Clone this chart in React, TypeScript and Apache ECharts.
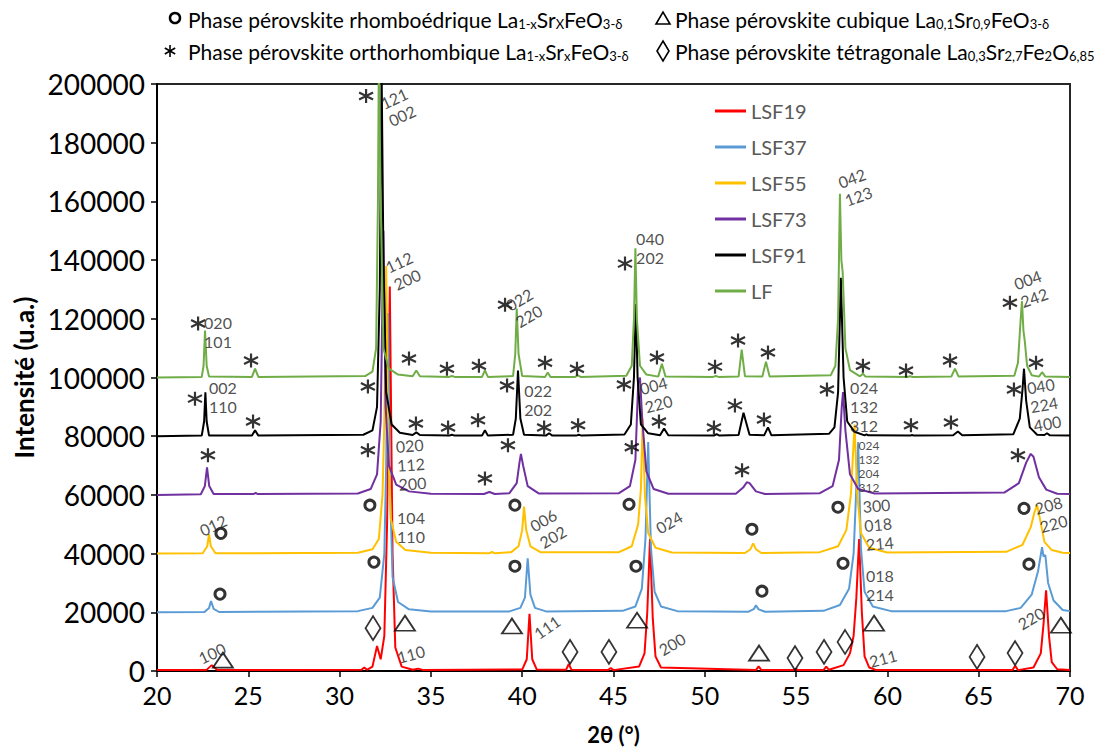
import React, { useEffect, useRef } from 'react';
import * as echarts from 'echarts';

const FONT = 'Lato, "Open Sans", sans-serif';

const seriesNames = ['LSF19', 'LSF37', 'LSF55', 'LSF73', 'LSF91', 'LF'];
const seriesColors = ['#FF0000', '#5B9BD5', '#FFC000', '#7030A0', '#000000', '#70AD47'];

const LSF19: [number, number][] = [
  [20, 300], [22.7, 300], [23.0, 2000], [23.3, 300], [31.2, 400], [31.35, 1200], [31.5, 400], [31.8, 1500],
  [32.05, 8500], [32.25, 4000], [32.45, 12000], [32.6, 50000], [32.75, 131000], [32.9, 40000], [33.05, 8000],
  [33.4, 1500], [34.0, 400], [34.3, 800], [34.6, 300], [40.0, 500], [40.25, 4000], [40.4, 19500], [40.55, 4000],
  [40.8, 500], [42.4, 400], [42.55, 2400], [42.7, 400], [44.7, 300], [44.85, 1000], [45.0, 300], [46.4, 1500],
  [46.7, 6000], [46.85, 20000], [47.0, 45000], [47.15, 18000], [47.3, 5000], [47.6, 1200], [52.8, 300],
  [52.95, 1600], [53.1, 300], [54.9, 300], [55.0, 700], [55.1, 300], [56.5, 300], [56.65, 1500], [56.8, 400],
  [57.6, 2000], [57.95, 6000], [58.15, 12000], [58.3, 25000], [58.45, 45000], [58.6, 20000], [58.75, 5000],
  [59.0, 1200], [59.4, 300], [66.85, 300], [67.0, 1800], [67.15, 300], [68.0, 1200], [68.4, 6000], [68.55, 16000],
  [68.69, 27500], [68.85, 12000], [69.0, 3000], [69.3, 600], [70, 300],
];

const LSF37: [number, number][] = [
  [20, 20000], [22.6, 20100], [22.85, 21500], [22.96, 23800], [23.1, 21200], [23.4, 20100], [31.0, 20400],
  [31.8, 21500], [32.2, 25000], [32.45, 40000], [32.55, 70000], [32.65, 122000], [32.75, 65000], [32.9, 32000],
  [33.2, 23500], [33.8, 21000], [35, 20300], [39.3, 20300], [39.9, 21500], [40.15, 25000], [40.3, 38400],
  [40.45, 26000], [40.7, 21500], [41.3, 20300], [45.5, 20500], [46.2, 22000], [46.55, 28000], [46.75, 45000],
  [46.9, 78000], [47.05, 42000], [47.25, 27000], [47.6, 22000], [48.5, 20400], [52.4, 20200], [52.7, 21200],
  [52.8, 22400], [52.95, 21000], [53.3, 20200], [56.5, 20500], [57.4, 22500], [57.9, 28000], [58.15, 40000],
  [58.4, 78000], [58.55, 42000], [58.75, 27000], [59.2, 22000], [60.2, 20400], [66.5, 20400], [67.3, 21500],
  [67.9, 26000], [68.25, 34000], [68.47, 42200], [68.55, 39000], [68.65, 39500], [68.8, 30000], [69.1, 24000],
  [69.6, 20800], [70, 20400],
];

const LSF55: [number, number][] = [
  [20, 40000], [22.5, 40100], [22.75, 42500], [22.85, 46600], [22.95, 42500], [23.2, 40100], [31.0, 40300],
  [31.8, 41500], [32.15, 45000], [32.35, 60000], [32.45, 85000], [32.55, 138000], [32.65, 80000], [32.8, 52000],
  [33.1, 44000], [33.6, 41200], [35, 40300], [38.2, 40100], [38.35, 40600], [38.5, 40100], [39.4, 40500],
  [39.8, 42500], [40.0, 48000], [40.1, 56000], [40.22, 48000], [40.45, 42500], [41.0, 40500], [45.3, 40500],
  [46.0, 42500], [46.35, 50000], [46.5, 62000], [46.6, 86000], [46.72, 60000], [46.9, 47000], [47.3, 42000],
  [48.2, 40400], [52.2, 40200], [52.5, 41500], [52.65, 43500], [52.8, 41500], [53.1, 40200], [56.3, 40500],
  [57.3, 42500], [57.75, 48000], [58.0, 60000], [58.2, 84000], [58.35, 60000], [58.55, 47000], [59.0, 42000],
  [60.0, 40400], [66.5, 40600], [67.4, 43000], [67.85, 49000], [68.05, 54000], [68.2, 56500], [68.35, 52000],
  [68.6, 44000], [69.0, 41200], [69.6, 40300], [70, 40200],
];

const LSF73: [number, number][] = [
  [20, 60000], [22.4, 60200], [22.62, 63000], [22.74, 69400], [22.86, 63000], [23.1, 60300], [25.3, 60300],
  [25.4, 60700], [25.5, 60300], [31.0, 60500], [31.7, 62000], [32.05, 67000], [32.25, 85000], [32.4, 150000],
  [32.52, 90000], [32.7, 70000], [33.1, 63500], [33.8, 61200], [35, 60400], [37.9, 60300], [38.2, 61000],
  [38.5, 60300], [39.3, 60600], [39.7, 64000], [39.85, 71000], [39.93, 74000], [40.05, 70000], [40.3, 63000],
  [40.9, 60500], [45.3, 60600], [45.9, 63000], [46.2, 72000], [46.35, 98000], [46.45, 100000], [46.58, 85000],
  [46.8, 68000], [47.2, 62000], [48.0, 60400], [51.7, 60400], [52.1, 62500], [52.3, 64300], [52.45, 64000],
  [52.8, 61200], [53.3, 60300], [56.3, 60600], [57.0, 63000], [57.35, 72000], [57.5, 90000], [57.57, 95000],
  [57.7, 82000], [57.95, 67000], [58.4, 62000], [59.3, 60500], [66.4, 60800], [67.2, 64000], [67.6, 71000],
  [67.85, 74000], [68.0, 73000], [68.3, 66000], [68.7, 61800], [69.3, 60400], [70, 60300],
];

const LSF91: [number, number][] = [
  [20, 80000], [22.45, 80200], [22.58, 85000], [22.65, 95000], [22.72, 85000], [22.85, 80200], [25.2, 80200],
  [25.37, 82000], [25.55, 80200], [31.3, 80500], [31.8, 82000], [32.05, 90000], [32.2, 130000], [32.3, 205000],
  [32.4, 140000], [32.55, 95000], [32.85, 84000], [33.3, 81200], [34.0, 80400], [34.2, 81300], [34.4, 80400],
  [36.0, 80200], [36.15, 80500], [36.3, 80200], [37.8, 80200], [37.96, 82000], [38.12, 80200], [39.5, 80500],
  [39.65, 86000], [39.77, 102400], [39.9, 86000], [40.1, 80500], [41.3, 80200], [41.47, 81000], [41.65, 80200],
  [42.95, 80200], [43.1, 80500], [43.25, 80200], [45.6, 80600], [45.95, 84000], [46.12, 100000], [46.22, 125000],
  [46.32, 100000], [46.5, 84000], [46.9, 81000], [47.55, 80300], [47.77, 82600], [48.0, 80300], [50.5, 80200],
  [50.65, 80700], [50.8, 80200], [51.85, 80400], [52.05, 86000], [52.12, 88000], [52.25, 85000], [52.45, 80500],
  [53.25, 80300], [53.46, 83000], [53.65, 80300], [56.8, 80800], [57.1, 83000], [57.3, 95000], [57.45, 134000],
  [57.6, 100000], [57.8, 85000], [58.2, 81500], [58.75, 80300], [58.85, 80600], [58.95, 80300], [61.25, 80200],
  [61.35, 80400], [61.45, 80200], [63.6, 80300], [63.86, 81600], [64.1, 80300], [66.9, 80700], [67.25, 86000],
  [67.4, 96000], [67.48, 103000], [67.6, 92000], [67.8, 83000], [68.2, 80500], [68.6, 80400], [68.74, 81000],
  [68.9, 80300], [70, 80200],
];

const LF: [number, number][] = [
  [20, 100000], [22.45, 100200], [22.55, 104000], [22.63, 116000], [22.72, 104000], [22.85, 100300],
  [25.2, 100200], [25.37, 103000], [25.55, 100200], [31.4, 100500], [31.8, 102000], [32.0, 110000],
  [32.1, 160000], [32.15, 210000], [32.25, 160000], [32.4, 110000], [32.7, 103000], [33.2, 101000],
  [34.0, 100400], [34.2, 102400], [34.4, 100400], [36.0, 100200], [36.15, 100500], [36.3, 100200],
  [37.8, 100200], [37.96, 102400], [38.12, 100200], [39.5, 100500], [39.62, 108000], [39.7, 123500],
  [39.8, 108000], [40.0, 100500], [41.25, 100200], [41.4, 101700], [41.55, 100200], [42.9, 100200],
  [43.05, 100700], [43.2, 100200], [45.7, 100600], [46.0, 104000], [46.12, 120000], [46.2, 144000],
  [46.28, 120000], [46.45, 104000], [46.8, 101000], [47.45, 100300], [47.65, 104700], [47.85, 100300],
  [50.45, 100200], [50.6, 100500], [50.75, 100200], [51.85, 100300], [52.02, 109500], [52.2, 100400],
  [53.15, 100300], [53.35, 105400], [53.55, 100300], [56.9, 100800], [57.15, 104000], [57.3, 120000],
  [57.4, 162600], [57.48, 140000], [57.55, 136000], [57.7, 110000], [57.95, 102500], [58.5, 100400],
  [58.66, 101300], [58.8, 100300], [61.1, 100200], [61.24, 100400], [61.4, 100200], [63.5, 100300],
  [63.7, 103000], [63.9, 100300], [66.95, 100600], [67.15, 105000], [67.3, 120000], [67.37, 126000],
  [67.45, 116000], [67.52, 112600], [67.65, 104000], [67.9, 100800], [68.3, 100300], [68.47, 101800],
  [68.65, 100300], [70, 100200],
];

const seriesData = [LSF19, LSF37, LSF55, LSF73, LSF91, LF];

// orthorhombic phase markers (*)
const starMarks: [number, number][] = [
  [22.25, 118400], [25.15, 105800], [31.45, 195900], [33.8, 106500], [35.88, 103000], [37.63, 104000],
  [39.06, 124800], [41.25, 105000], [43.0, 103000], [45.63, 138800], [47.38, 106800], [50.56, 103700],
  [51.82, 112600], [53.46, 108500], [58.66, 104000], [61.02, 102400], [63.43, 105800], [66.71, 125500],
  [68.14, 105000],
  [22.08, 92800], [25.26, 85000], [31.55, 96900], [34.18, 84300], [35.94, 83000], [37.58, 85400],
  [39.17, 97300], [41.2, 83000], [43.06, 83700], [45.57, 97600], [47.49, 85000], [50.5, 83000],
  [51.65, 90500], [53.24, 85700], [56.69, 95900], [61.29, 83700], [63.48, 84700], [66.93, 95900],
  [22.79, 73500], [31.55, 75200], [37.96, 65600], [39.22, 76900], [46.0, 76200], [52.04, 68400], [67.15, 73500],
];

// rhombohedral phase markers (o)
const circleMarks: [number, number][] = [
  [23.5, 46900], [31.66, 56500], [39.6, 56500], [45.85, 56800], [52.58, 48300], [57.29, 55800], [67.48, 55400],
  [23.45, 26200], [31.88, 37100], [39.6, 35700], [46.23, 35700], [53.13, 27200], [57.57, 36700], [67.75, 36400],
];

// cubic phase markers (triangle)
const triangleMarks: [number, number][] = [
  [23.61, 3700], [33.58, 16300], [39.44, 15300], [46.29, 17300], [52.97, 6100], [59.27, 16300], [69.5, 15600],
];

// tetragonal phase markers (diamond)
const diamondMarks: [number, number][] = [
  [31.83, 14600], [42.62, 6500], [44.75, 6500], [54.94, 4400], [56.53, 6500], [57.68, 9900], [64.91, 4800],
  [66.99, 6100],
];

// Miller indices: [2θ, intensity, text, rotation]
const hklLabels: [number, number, string, number][] = [
  [33.2, 192200, '121\n002', 25],
  [33.47, 136400, '112\n200', 25],
  [23.34, 115600, '020\n101', 0],
  [23.61, 93200, '002\n110', 0],
  [40.1, 123800, '022\n220', 30],
  [47.0, 144200, '040\n202', 0],
  [58.23, 164900, '042\n123', 20],
  [67.86, 130300, '004\n242', 20],
  [40.87, 92200, '022\n202', 0],
  [47.33, 94200, '004\n220', 15],
  [58.72, 90100, '024\n132\n312', 0],
  [68.58, 90800, '040\n224\n400', 10],
  [33.91, 70400, '020\n112\n200', 4],
  [23.07, 49700, '012', 25],
  [33.91, 49000, '104\n110', 0],
  [41.41, 48600, '006\n202', 30],
  [48.04, 50700, '024', 30],
  [59.49, 50000, '300\n018\n214', 5],
  [68.96, 53400, '208\n220', 15],
  [59.59, 29200, '018\n214', 0],
  [23.01, 6100, '100', 25],
  [33.91, 5800, '110', 15],
  [41.36, 15000, '111', 35],
  [48.2, 9200, '200', 30],
  [59.76, 4400, '211', 15],
  [67.86, 18000, '220', 30],
];
// small-font label for LSF73
const hklSmall: [number, number, string, number][] = [
  [58.99, 69700, '024\n132\n204\n312', 0],
];

const xTicks = { min: 20, max: 70, interval: 5 };
const yTicks = { min: 0, max: 200000, interval: 20000 };

const STAR_PATH = 'path://M5 0 L5 10 M0.67 2.5 L9.33 7.5 M0.67 7.5 L9.33 2.5';

export default function App() {
  const ref = useRef<HTMLDivElement>(null);
  useEffect(() => {
    if (!ref.current) return;
    const chart = echarts.init(ref.current, undefined, { renderer: 'svg' });

    const lineSeries = seriesNames.map((name, i) => ({
      name,
      type: 'line',
      data: seriesData[i],
      showSymbol: false,
      symbol: 'none',
      lineStyle: { color: seriesColors[i], width: 2 },
      itemStyle: { color: seriesColors[i] },
      emphasis: { disabled: true },
      clip: true,
      z: 2 + i,
    }));

    const subRich = {
      n: { fontSize: 21, lineHeight: 26, verticalAlign: 'bottom', fontFamily: FONT, color: '#000' },
      s: { fontSize: 13, lineHeight: 5, verticalAlign: 'bottom', fontFamily: FONT, color: '#000' },
    };

    const option: any = {
      animation: false,
      textStyle: { fontFamily: FONT },
      grid: {
        left: 157, right: 40, top: 84, bottom: 84,
        show: true, borderColor: '#262626', borderWidth: 2, backgroundColor: 'transparent',
      },
      legend: {
        data: seriesNames,
        orient: 'vertical',
        left: 710,
        top: 96,
        itemWidth: 31,
        itemHeight: 3,
        itemGap: 16,
        icon: 'rect',
        textStyle: { fontSize: 20, color: '#595959', fontFamily: FONT },
      },
      xAxis: {
        type: 'value',
        ...xTicks,
        name: '2θ (°)',
        nameLocation: 'middle',
        nameGap: 52,
        nameTextStyle: { fontSize: 22, fontWeight: 'bold', color: '#000', fontFamily: FONT },
        axisLine: { show: true, lineStyle: { color: '#000', width: 2 } },
        axisTick: { show: true, inside: false, length: 6, lineStyle: { color: '#000', width: 1.5 } },
        axisLabel: { fontSize: 25, color: '#000', margin: 11, fontFamily: FONT },
        splitLine: { show: false },
      },
      yAxis: {
        type: 'value',
        ...yTicks,
        name: 'Intensité (u.a.)',
        nameLocation: 'middle',
        nameGap: 118,
        nameRotate: 90,
        nameTextStyle: { fontSize: 26, fontWeight: 'bold', color: '#000', fontFamily: FONT },
        axisLine: { show: true, lineStyle: { color: '#000', width: 2 } },
        axisTick: { show: true, inside: false, length: 6, lineStyle: { color: '#000', width: 1.5 } },
        axisLabel: { fontSize: 28, color: '#000', margin: 12, fontFamily: FONT, formatter: (v: number) => String(v) },
        splitLine: { show: false },
      },
      series: [
        ...lineSeries,
        {
          name: 'stars', type: 'scatter', data: starMarks, symbol: STAR_PATH, symbolSize: 14,
          itemStyle: { color: 'rgba(0,0,0,0)', borderColor: '#000', borderWidth: 2.2 },
          emphasis: { disabled: true }, z: 20, clip: false,
        },
        {
          name: 'circles', type: 'scatter', data: circleMarks, symbol: 'circle', symbolSize: 10,
          itemStyle: { color: 'rgba(0,0,0,0)', borderColor: '#000', borderWidth: 3 },
          emphasis: { disabled: true }, z: 20, clip: false,
        },
        {
          name: 'triangles', type: 'scatter', data: triangleMarks, symbol: 'triangle', symbolSize: [20, 15],
          itemStyle: { color: 'rgba(0,0,0,0)', borderColor: '#000', borderWidth: 1.8 },
          emphasis: { disabled: true }, z: 20, clip: false,
        },
        {
          name: 'diamonds', type: 'scatter', data: diamondMarks, symbol: 'diamond', symbolSize: [15, 24],
          itemStyle: { color: 'rgba(0,0,0,0)', borderColor: '#000', borderWidth: 1.8 },
          emphasis: { disabled: true }, z: 20, clip: false,
        },
        {
          name: 'hkl', type: 'scatter', symbolSize: 1,
          itemStyle: { color: 'rgba(0,0,0,0)' },
          data: hklLabels.map(([x, y, t, r]) => ({ value: [x, y], name: t, label: { rotate: r } })),
          label: {
            show: true, position: 'inside', formatter: (p: any) => p.name,
            fontSize: 16, lineHeight: 19, color: '#222', fontFamily: FONT, align: 'center', verticalAlign: 'middle',
          },
          emphasis: { disabled: true }, z: 21, clip: false,
        },
        {
          name: 'hklSmall', type: 'scatter', symbolSize: 1,
          itemStyle: { color: 'rgba(0,0,0,0)' },
          data: hklSmall.map(([x, y, t, r]) => ({ value: [x, y], name: t, label: { rotate: r } })),
          label: {
            show: true, position: 'inside', formatter: (p: any) => p.name,
            fontSize: 12, lineHeight: 14, color: '#222', fontFamily: FONT, align: 'center', verticalAlign: 'middle',
          },
          emphasis: { disabled: true }, z: 21, clip: false,
        },
      ],
      graphic: [
        { type: 'circle', shape: { cx: 175, cy: 18, r: 5 }, style: { fill: 'none', stroke: '#000', lineWidth: 2.5 } },
        {
          type: 'group', x: 170, y: 51,
          children: [
            { type: 'line', shape: { x1: 0, y1: -6, x2: 0, y2: 6 }, style: { stroke: '#000', lineWidth: 1.6 } },
            { type: 'line', shape: { x1: -5.2, y1: -3, x2: 5.2, y2: 3 }, style: { stroke: '#000', lineWidth: 1.6 } },
            { type: 'line', shape: { x1: -5.2, y1: 3, x2: 5.2, y2: -3 }, style: { stroke: '#000', lineWidth: 1.6 } },
          ],
        },
        { type: 'polygon', shape: { points: [[656, 24], [670, 24], [663, 12]] }, style: { fill: 'none', stroke: '#000', lineWidth: 1.6 } },
        { type: 'polygon', shape: { points: [[663, 41], [669, 51], [663, 61], [657, 51]] }, style: { fill: 'none', stroke: '#000', lineWidth: 1.6 } },
        {
          type: 'text', x: 188, y: 4,
          style: {
            text: '{n|Phase pérovskite rhomboédrique La}{s|1-x}{n|Sr}{s|X}{n|FeO}{s|3-δ}',
            rich: subRich, fill: '#000',
          },
        },
        {
          type: 'text', x: 188, y: 36,
          style: {
            text: '{n|Phase pérovskite orthorhombique La}{s|1-x}{n|Sr}{s|x}{n|FeO}{s|3-δ}',
            rich: subRich, fill: '#000',
          },
        },
        {
          type: 'text', x: 675, y: 4,
          style: {
            text: '{n|Phase pérovskite cubique La}{s|0,1}{n|Sr}{s|0,9}{n|FeO}{s|3-δ}',
            rich: subRich, fill: '#000',
          },
        },
        {
          type: 'text', x: 675, y: 36,
          style: {
            text: '{n|Phase pérovskite tétragonale La}{s|0,3}{n|Sr}{s|2,7}{n|Fe}{s|2}{n|O}{s|6,85}',
            rich: subRich, fill: '#000',
          },
        },
      ],
    };
    chart.setOption(option);
    return () => chart.dispose();
  }, []);
  return <div ref={ref} style={{ width: 1110, height: 755, position: 'absolute', left: 0, top: 0 }} />;
}
